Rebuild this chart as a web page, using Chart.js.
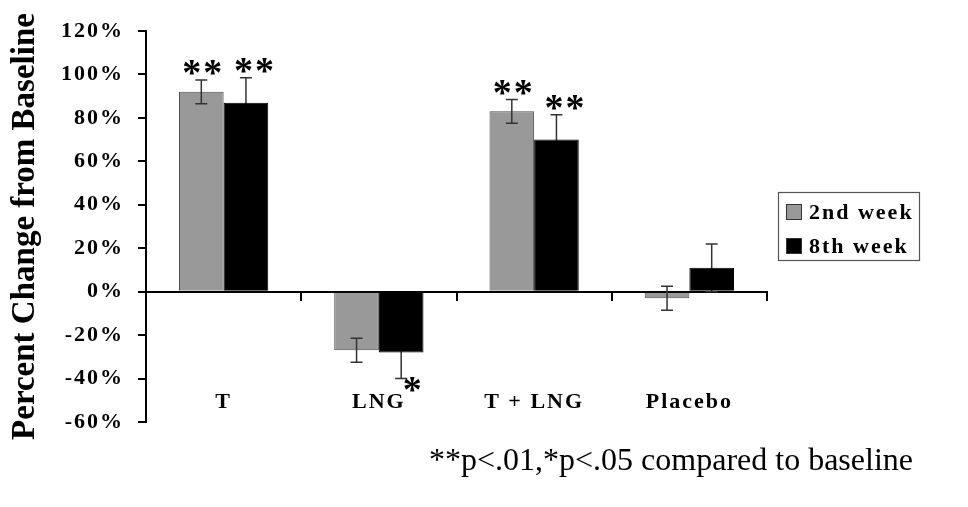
<!DOCTYPE html>
<html lang="en">
<head>
    <meta charset="UTF-8">
    <title>Percent Change from Baseline</title>
    <script src="https://cdn.jsdelivr.net/npm/chart.js"></script>
    <style>
        html, body {
            margin: 0;
            padding: 0;
            background: #fff;
        }
        #wrap {
            width: 968px;
            height: 507px;
        }
    </style>
</head>
<body>
    <div id="wrap"><canvas id="pctChart"></canvas></div>

    <script>
        // data (percent change from baseline)
        const groups = ['T', 'LNG', 'T + LNG', 'Placebo'];
        const seriesNames = ['2nd week', '8th week'];
        const week2 = [92, -27, 83, -3];
        const week8 = [87, -28, 70, 11];
        const week2Err = [5.5, 5.5, 5.5, 5.5];
        const week8Err = [11.5, 12, 11.5, 11];
        const week2Sig = ['**', '', '**', ''];
        const week8Sig = ['**', '*', '**', ''];
        const yTicks = [-60, -40, -20, 0, 20, 40, 60, 80, 100, 120];

        const SERIF = '"Liberation Serif", "Times New Roman", serif';
        const errors = [week2Err, week8Err];
        const marks = [week2Sig, week8Sig];

        function drawErrorBars(chart, di) {
            const ctx = chart.ctx;
            const y = chart.scales.y;
            const ds = chart.data.datasets[di];
            ctx.save();
            ctx.letterSpacing = '0px';
            ctx.strokeStyle = '#333';
            ctx.lineWidth = 1.5;
            chart.getDatasetMeta(di).data.forEach((bar, i) => {
                const v = ds.data[i];
                const e = errors[di][i];
                const yHi = y.getPixelForValue(v + e);
                const yLo = y.getPixelForValue(v - e);
                ctx.beginPath();
                ctx.moveTo(bar.x, yHi);
                ctx.lineTo(bar.x, yLo);
                ctx.moveTo(bar.x - 6, yHi);
                ctx.lineTo(bar.x + 6, yHi);
                ctx.moveTo(bar.x - 6, yLo);
                ctx.lineTo(bar.x + 6, yLo);
                ctx.stroke();
            });
            ctx.restore();
        }

        // error bars, significance stars, legend box, footnote
        const extras = {
            id: 'extras',
            beforeDraw(chart) {
                const ctx = chart.ctx;
                ctx.letterSpacing = '2px';
                // axis title is not letter-spaced, tick labels are
                const ys = chart.scales.y;
                if (!ys._plainTitle) {
                    const orig = ys.drawTitle;
                    ys.drawTitle = function () {
                        const keep = ctx.letterSpacing;
                        ctx.letterSpacing = '0px';
                        orig.call(this);
                        ctx.letterSpacing = keep;
                    };
                    ys._plainTitle = true;
                }
            },
            beforeDatasetsDraw(chart) {
                // black bars hide the lower half of their whiskers
                drawErrorBars(chart, 1);
            },
            afterDatasetsDraw(chart) {
                drawErrorBars(chart, 0);
                const ctx = chart.ctx;
                const y = chart.scales.y;
                ctx.save();
                ctx.fillStyle = '#000';
                ctx.font = 'bold 38px ' + SERIF;
                ctx.letterSpacing = '2px';
                ctx.textAlign = 'center';
                ctx.textBaseline = 'alphabetic';
                chart.data.datasets.forEach((ds, di) => {
                    const meta = chart.getDatasetMeta(di);
                    meta.data.forEach((bar, i) => {
                        const s = marks[di][i];
                        if (!s) return;
                        const v = ds.data[i];
                        const e = errors[di][i];
                        const m = ctx.measureText(s);
                        const mid = (m.actualBoundingBoxAscent - m.actualBoundingBoxDescent) / 2;
                        let cx, cy;
                        if (v >= 0) {
                            cx = bar.x + (di === 1 ? 9 : 2);
                            cy = y.getPixelForValue(v + e) - 12;
                        } else {
                            cx = bar.x + 12;
                            cy = y.getPixelForValue(v - e) + 6;
                        }
                        ctx.fillText(s, cx, cy + mid);
                    });
                });
                ctx.restore();
            },
            afterDraw(chart) {
                const ctx = chart.ctx;
                ctx.save();
                // legend
                ctx.letterSpacing = '0px';
                ctx.strokeStyle = '#555';
                ctx.lineWidth = 1.2;
                ctx.strokeRect(778.5, 192.5, 141, 68);
                ctx.font = 'bold 22px ' + SERIF;
                ctx.letterSpacing = '2px';
                ctx.textAlign = 'left';
                ctx.textBaseline = 'middle';
                chart.data.datasets.forEach((ds, di) => {
                    const ry = 212 + di * 34;
                    ctx.fillStyle = ds.backgroundColor;
                    ctx.fillRect(786, ry - 8, 16, 16);
                    ctx.strokeStyle = '#333';
                    ctx.lineWidth = 1;
                    ctx.strokeRect(786.5, ry - 7.5, 15, 15);
                    ctx.fillStyle = '#000';
                    ctx.fillText(ds.label, 809, ry + 1);
                });
                // footnote
                ctx.letterSpacing = '0px';
                ctx.font = '32px ' + SERIF;
                ctx.textAlign = 'left';
                ctx.textBaseline = 'alphabetic';
                ctx.fillText('**p<.01,*p<.05 compared to baseline', 429, 470);
                ctx.restore();
                ctx.letterSpacing = '0px';
            }
        };

        new Chart(document.getElementById('pctChart'), {
            type: 'bar',
            data: {
                labels: groups,
                datasets: [
                    {
                        label: seriesNames[0],
                        data: week2,
                        backgroundColor: '#999999',
                        borderColor: '#4d4d4d',
                        borderWidth: 1
                    },
                    {
                        label: seriesNames[1],
                        data: week8,
                        backgroundColor: '#000000',
                        borderColor: '#000000',
                        borderWidth: 1
                    }
                ]
            },
            options: {
                responsive: true,
                maintainAspectRatio: false,
                animation: false,
                devicePixelRatio: 1,
                layout: {
                    padding: { left: 0, right: 201, top: 31, bottom: 85 }
                },
                datasets: {
                    bar: {
                        categoryPercentage: 0.575,
                        barPercentage: 1.0
                    }
                },
                plugins: {
                    legend: { display: false },
                    tooltip: { enabled: false }
                },
                scales: {
                    x: {
                        position: { y: 0 },
                        afterFit: (s) => { s.height = 0; },
                        grid: {
                            drawOnChartArea: false,
                            drawTicks: true,
                            tickLength: 8,
                            color: '#000',
                            lineWidth: 2,
                            offset: true
                        },
                        border: { display: true, color: '#000', width: 2 },
                        ticks: {
                            color: '#000',
                            padding: 89,
                            font: { family: SERIF, size: 22, weight: 'bold' }
                        }
                    },
                    y: {
                        min: -60,
                        max: 120,
                        afterFit: (s) => { s.width = 146; },
                        afterBuildTicks: (s) => {
                            s.ticks = yTicks.map(v => ({ value: v }));
                        },
                        grid: {
                            drawOnChartArea: false,
                            drawTicks: true,
                            tickLength: 8,
                            color: '#000',
                            lineWidth: 2
                        },
                        border: { display: true, color: '#000', width: 2 },
                        ticks: {
                            color: '#000',
                            padding: 14,
                            font: { family: SERIF, size: 22, weight: 'bold' },
                            callback: (v) => v + '%'
                        },
                        title: {
                            display: true,
                            text: 'Percent Change from Baseline',
                            color: '#000',
                            padding: { top: 6, bottom: 0 },
                            font: { family: SERIF, size: 33, weight: 'bold' }
                        }
                    }
                }
            },
            plugins: [extras]
        });
    </script>
</body>
</html>
